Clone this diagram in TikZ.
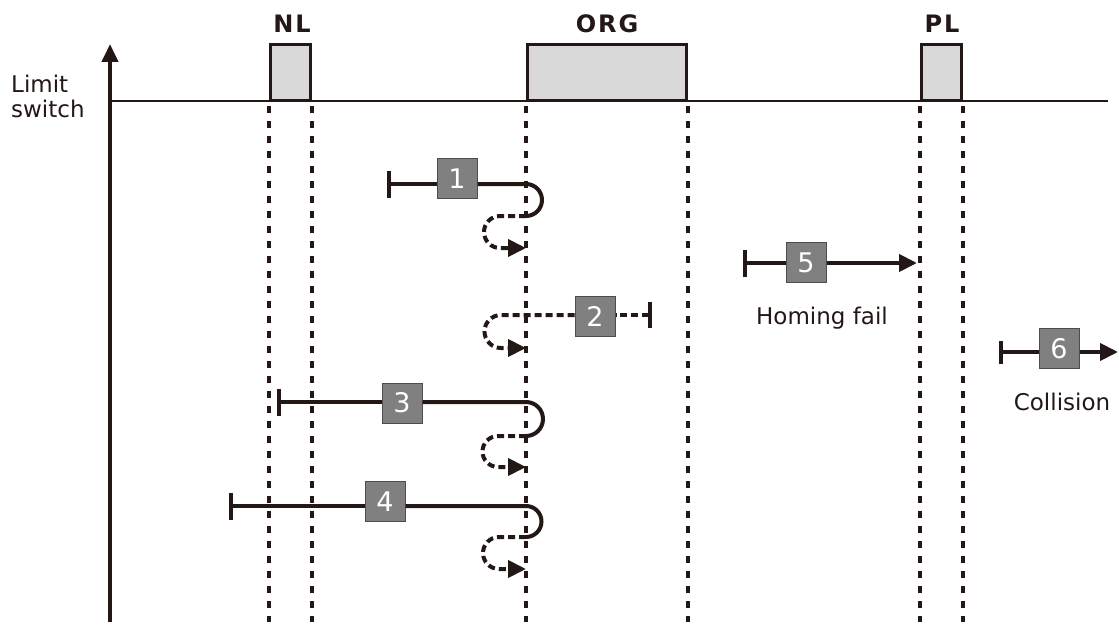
\documentclass[tikz,border=0pt]{standalone}
\usepackage{fontspec}
\setmainfont{DejaVu Sans}
\usetikzlibrary{arrows.meta}
\definecolor{ink}{HTML}{231815}
\definecolor{swfill}{HTML}{D9D9D9}
\definecolor{numfill}{HTML}{808080}
\tikzset{
  swbox/.style={draw=ink,line width=2.5pt,fill=swfill,inner sep=0pt,
    minimum width=40pt,minimum height=55pt,anchor=south west},
  limline/.style={ink,line width=4pt,dash pattern=on 7pt off 8pt,dash phase=10pt},
  stepnum/.style={draw=numfill!60!black,line width=1pt,fill=numfill,text=white,
    minimum size=40pt,inner sep=0pt,font=\fontsize{27}{27}\selectfont},
  fwd/.style={ink,line width=4pt},
  back/.style={ink,line width=4pt,dash pattern=on 7pt off 4pt},
  headarrow/.style={-{Triangle[length=18pt,width=17pt]}},
  lab/.style={font=\fontsize{23}{25}\selectfont,text=ink,inner sep=0pt},
  swlab/.style={font=\bfseries\fontsize{24}{24}\selectfont\addfontfeatures{LetterSpace=8},
    text=ink,inner sep=0pt}
}
\begin{document}
\begin{tikzpicture}[x=1pt,y=-1pt]
\useasboundingbox (0,0) rectangle (1119,626);
% axis and switch signal
\draw[ink,line width=4pt,-{Triangle[length=18pt,width=16pt]}] (110,622) -- (110,44);
\draw[ink,line width=2.5pt] (110,101) -- (1108,101);
\node[lab,align=left,anchor=north west] (ls) at (11,75) {Limit\\switch};
% limit switches
\node[swbox] (nl) at (269,101) {};
\node[swbox,minimum width=159pt] (org) at (526,101) {};
\node[swbox] (pl) at (920,101) {};
\node[swlab,anchor=base] at (292,33) {NL};
\node[swlab,anchor=base] at (607,33) {ORG};
\node[swlab,anchor=base] at (942,33) {PL};
% dotted edges of the switches
\foreach \n in {nl,org,pl} {
  \draw[limline] (\n.south west) -- ++(0,521);
  \draw[limline] (\n.south east) -- ++(0,521);
}
% case 1
\coordinate (s1) at (387,184);
\coordinate (o1) at (526,184);
\coordinate (e1) at (526,248);
\node[stepnum] (n1) at (457,178.5) {1};
\draw[fwd,{Bar[width=27pt]}-] (s1) -- (s1 -| n1.west);
\draw[fwd] (n1.east |- o1) -- (o1) arc[start angle=-90,end angle=90,radius=16];
\draw[back,headarrow] (526,216) -- ++(-26,0) arc[start angle=-90,end angle=-270,radius=16] -- (e1);
% case 2
\coordinate (s2) at (652,315);
\coordinate (e2) at (526,348);
\node[stepnum] (n2) at (595,316) {2};
\draw[back,{Bar[width=26pt]}-] (s2) -- (s2 -| n2.east);
\draw[back,headarrow] (n2.west |- s2) -- (501,315) arc[start angle=-90,end angle=-270,radius=16.5] -- (e2);
% case 3
\coordinate (s3) at (277,402);
\coordinate (o3) at (526,402);
\coordinate (e3) at (526,467);
\node[stepnum] (n3) at (402,403) {3};
\draw[fwd,{Bar[width=27pt]}-] (s3) -- (s3 -| n3.west);
\draw[fwd] (n3.east |- o3) -- (o3) arc[start angle=-90,end angle=90,radius=17];
\draw[back,headarrow] (526,436) -- ++(-28,0) arc[start angle=-90,end angle=-270,radius=15.5] -- (e3);
% case 4
\coordinate (s4) at (229,506);
\coordinate (o4) at (526,506);
\coordinate (e4) at (526,569);
\node[stepnum] (n4) at (385,501.5) {4};
\draw[fwd,{Bar[width=27pt]}-] (s4) -- (s4 -| n4.west);
\draw[fwd] (n4.east |- o4) -- (o4) arc[start angle=-90,end angle=90,radius=15.5];
\draw[back,headarrow] (526,537) -- ++(-27,0) arc[start angle=-90,end angle=-270,radius=16] -- (e4);
% case 5
\coordinate (s5) at (743,263);
\coordinate (e5) at (917,263);
\node[stepnum] (n5) at (806,262.5) {5};
\draw[fwd,{Bar[width=27pt]}-] (s5) -- (s5 -| n5.west);
\draw[fwd,headarrow] (n5.east |- s5) -- (e5);
\node[lab,anchor=base] (hf) at (822,324) {Homing fail};
% case 6
\coordinate (s6) at (999,352);
\coordinate (e6) at (1118,352);
\node[stepnum] (n6) at (1059,348.5) {6};
\draw[fwd,{Bar[width=23pt]}-] (s6) -- (s6 -| n6.west);
\draw[fwd,headarrow] (n6.east |- s6) -- (e6);
\node[lab,anchor=base] (col) at (1062,410) {Collision};
\end{tikzpicture}
\end{document}
